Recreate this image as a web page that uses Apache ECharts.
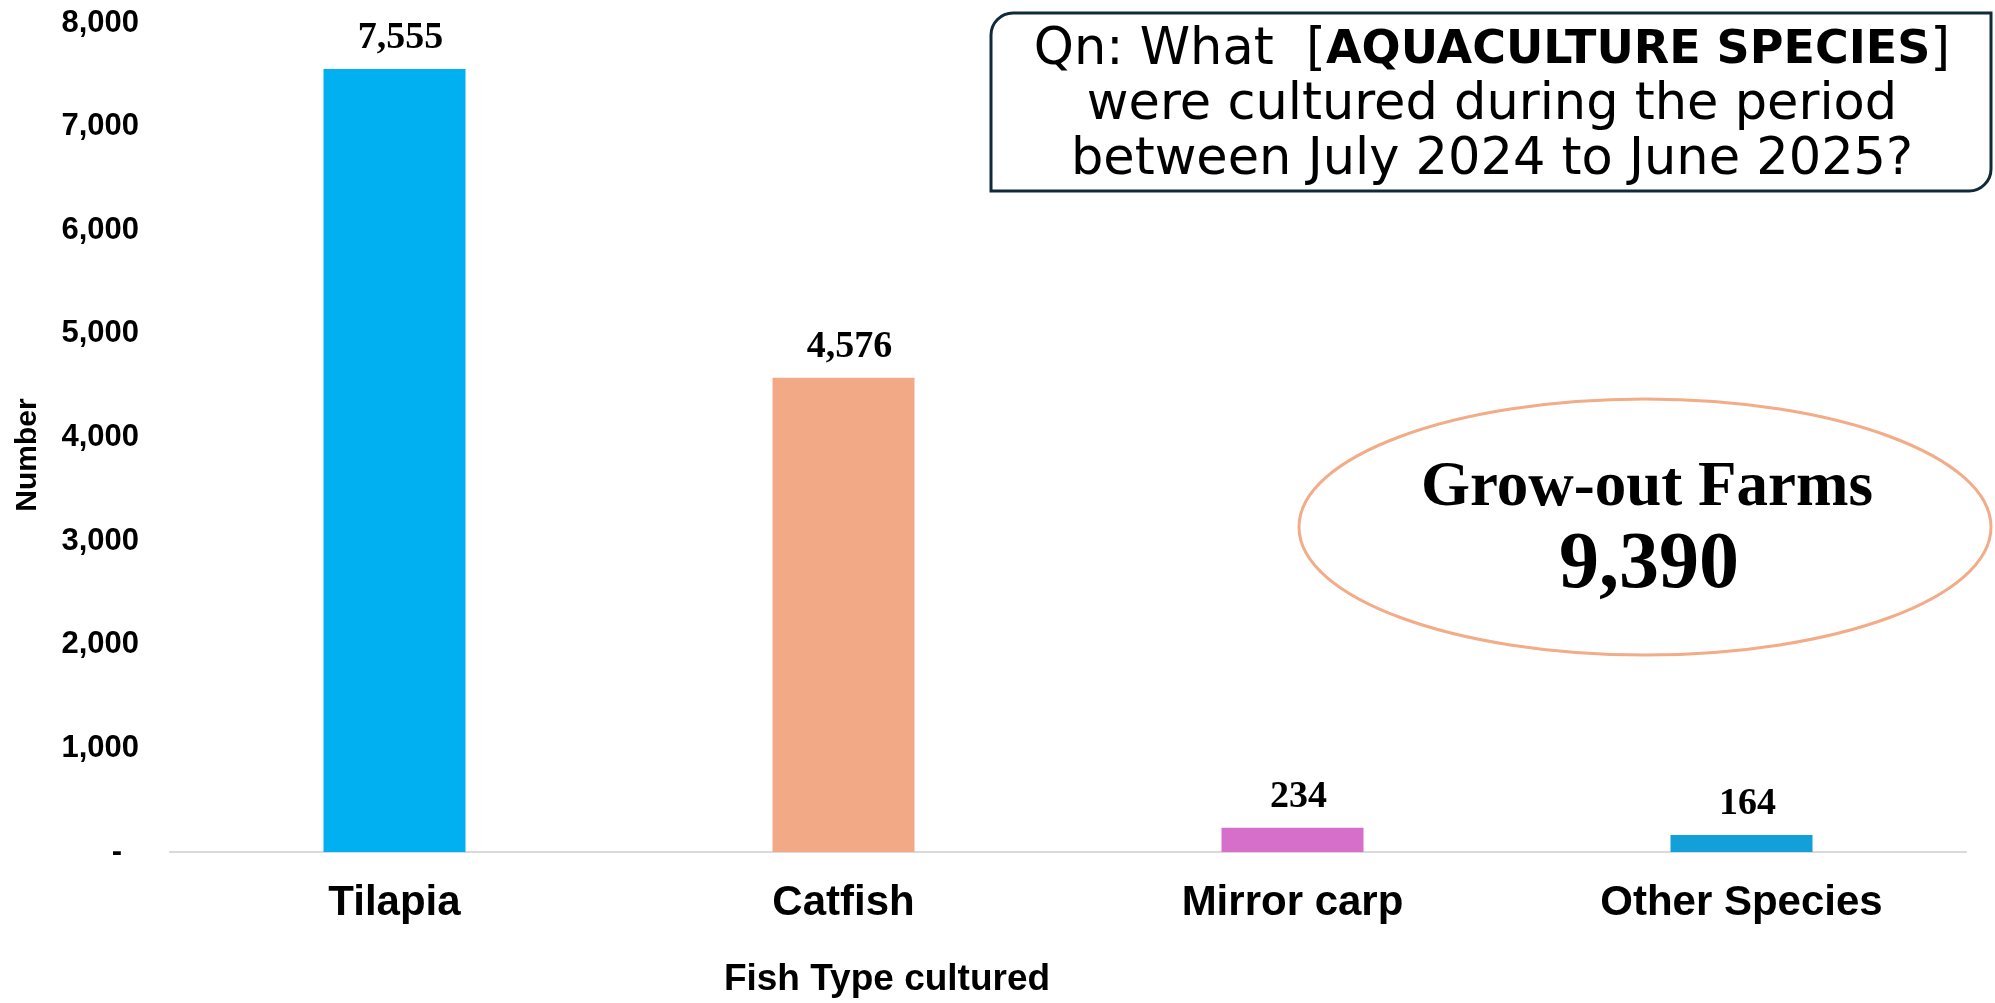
<!DOCTYPE html>
<html>
<head>
<meta charset="utf-8">
<title>Aquaculture species</title>
<script src="https://cdn.jsdelivr.net/npm/echarts/dist/echarts.min.js"></script>
<style>
    html, body { margin: 0; padding: 0; background: #ffffff; }
    #main { width: 1995px; height: 1003px; }
</style>
</head>
<body>
<div id="main"></div>
<script>
// data
const speciesList = ['Tilapia', 'Catfish', 'Mirror carp', 'Other Species'];
const farmCounts = [7555, 4576, 234, 164];
const barColors = ['#00B0F0', '#F1AA85', '#D66FCA', '#13A0D8'];
const yTicks = [0, 1000, 2000, 3000, 4000, 5000, 6000, 7000, 8000];
const growOutTotal = 9390;

const xTitle = 'Fish Type cultured';
const yTitle = 'Number';

function fmt(v) {
    return Number(v).toLocaleString('en-US');
}

let chart = echarts.init(document.getElementById('main'));

let seriesData = farmCounts.map(function(v, idx) {
    return {
        value: v,
        itemStyle: { color: barColors[idx] }
    };
});

let options = {
    backgroundColor: '#ffffff',
    animation: false,
    grid: {
        left: 170,
        right: 29,
        top: 23,
        bottom: 151,
        containLabel: false
    },
    xAxis: {
        type: 'category',
        data: speciesList,
        axisLine: {
            lineStyle: { color: '#D9D9D9', width: 2 }
        },
        axisTick: { show: false },
        axisLabel: {
            margin: 30,
            fontFamily: 'Liberation Sans, Arial, sans-serif',
            fontWeight: 'bold',
            fontSize: 42,
            lineHeight: 42,
            color: '#000000'
        }
    },
    yAxis: {
        type: 'value',
        min: yTicks[0],
        max: yTicks[yTicks.length - 1],
        interval: yTicks[1] - yTicks[0],
        axisLine: { show: false },
        axisTick: { show: false },
        splitLine: { show: false },
        axisLabel: {
            margin: 31,
            fontFamily: 'Liberation Sans, Arial, sans-serif',
            fontWeight: 'bold',
            fontSize: 31,
            color: '#000000',
            formatter: function(v) {
                return v === 0 ? '{z|-}' : fmt(v);
            },
            rich: {
                z: {
                    fontFamily: 'Liberation Sans, Arial, sans-serif',
                    fontWeight: 'bold',
                    fontSize: 31,
                    color: '#000000',
                    padding: [0, 17, 0, 0]
                }
            }
        }
    },
    series: [{
        type: 'bar',
        data: seriesData,
        barWidth: 142,
        label: {
            show: true,
            position: 'top',
            distance: 12,
            offset: [6, 0],
            fontFamily: 'Liberation Serif, Times New Roman, serif',
            fontWeight: 'bold',
            fontSize: 38,
            color: '#000000',
            formatter: function(p) {
                return fmt(p.value);
            }
        }
    }],
    graphic: [
        // axis titles
        {
            type: 'text',
            x: 887,
            y: 980,
            style: {
                text: xTitle,
                fontFamily: 'Liberation Sans, Arial, sans-serif',
                fontWeight: 'bold',
                fontSize: 37,
                fill: '#000000',
                align: 'center',
                verticalAlign: 'middle'
            }
        },
        {
            type: 'text',
            x: 28,
            y: 455,
            rotation: Math.PI / 2,
            style: {
                text: yTitle,
                fontFamily: 'Liberation Sans, Arial, sans-serif',
                fontWeight: 'bold',
                fontSize: 30,
                fill: '#000000',
                align: 'center',
                verticalAlign: 'middle'
            }
        },
        // question box
        {
            type: 'rect',
            shape: { x: 991, y: 13, width: 1000, height: 178, r: [22, 0, 22, 0] },
            style: { fill: '#ffffff', stroke: '#0E2A3B', lineWidth: 3 }
        },
        {
            type: 'text',
            x: 1492,
            y: 106,
            style: {
                text: '{n|Qn: What  [}{b|AQUACULTURE SPECIES}{n|]}\n{n|were cultured during the period}\n{n|between July 2024 to June 2025?}',
                align: 'center',
                verticalAlign: 'middle',
                rich: {
                    n: {
                        fontFamily: 'Comic Sans MS, DejaVu Sans, sans-serif',
                        fontSize: 51,
                        lineHeight: 55,
                        fill: '#000000'
                    },
                    b: {
                        fontFamily: 'Comic Sans MS, DejaVu Sans, sans-serif',
                        fontWeight: 'bold',
                        fontSize: 46,
                        lineHeight: 55,
                        fill: '#000000'
                    }
                }
            }
        },
        // grow-out farms callout
        {
            type: 'ellipse',
            shape: { cx: 1645, cy: 527, rx: 346, ry: 128 },
            style: { fill: 'none', stroke: '#F2AC88', lineWidth: 3 }
        },
        {
            type: 'text',
            x: 1647,
            y: 489,
            style: {
                text: 'Grow-out Farms',
                fontFamily: 'Liberation Serif, Times New Roman, serif',
                fontWeight: 'bold',
                fontSize: 63,
                fill: '#000000',
                align: 'center',
                verticalAlign: 'middle'
            }
        },
        {
            type: 'text',
            x: 1649,
            y: 566,
            style: {
                text: fmt(growOutTotal),
                fontFamily: 'Liberation Serif, Times New Roman, serif',
                fontWeight: 'bold',
                fontSize: 80,
                fill: '#000000',
                align: 'center',
                verticalAlign: 'middle'
            }
        }
    ]
};

chart.setOption(options);
window.addEventListener('resize', function() {
    chart.resize();
});
</script>
</body>
</html>
